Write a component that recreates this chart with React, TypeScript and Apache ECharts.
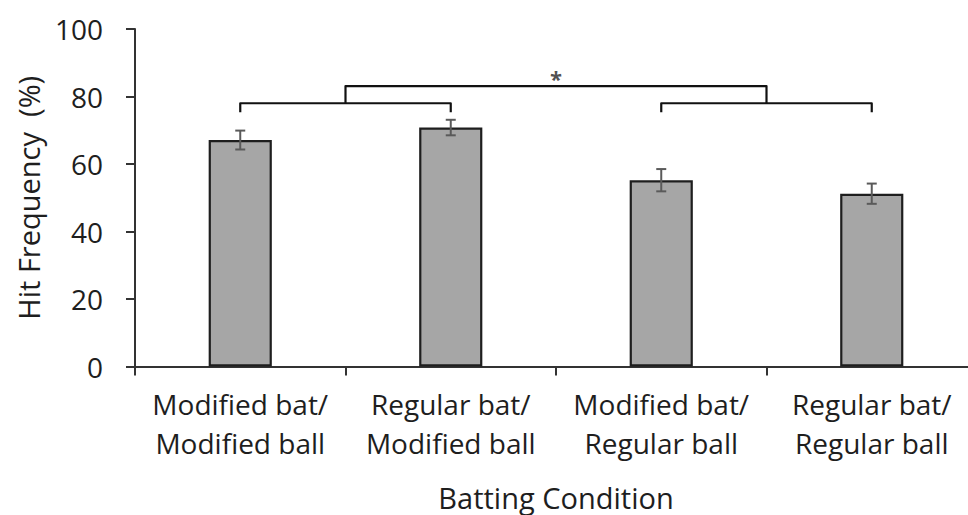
import React, { useEffect, useRef } from "react";
import * as echarts from "echarts";

const categories = [
  "Modified bat/\nModified ball",
  "Regular bat/\nModified ball",
  "Modified bat/\nRegular ball",
  "Regular bat/\nRegular ball",
];
const means = [67.1, 70.8, 55.2, 51.2];
const errors = [2.8, 2.3, 3.3, 3.0];
const yTicks = { min: 0, max: 100, interval: 20 };
// significance brackets: pairs of category indices
const bracketPairs = [
  [0, 1],
  [2, 3],
];
const bracketLevel = 78;
const bracketDropEnd = 75.3;
const topBracketLevel = 83.1;
const starLevel = 86.7;

const FONT = "'Open Sans', sans-serif";

export default function App() {
  const ref = useRef<HTMLDivElement>(null);
  useEffect(() => {
    if (!ref.current) return;
    const chart = echarts.init(ref.current, null, { renderer: "svg" });

    const bracketSeries: any[] = bracketPairs.map((p) => ({
      type: "line",
      xAxisIndex: 1,
      yAxisIndex: 0,
      symbol: "none",
      silent: true,
      lineStyle: { color: "#111", width: 2.2, join: "round" },
      data: [
        [p[0] + 0.5, bracketDropEnd],
        [p[0] + 0.5, bracketLevel],
        [p[1] + 0.5, bracketLevel],
        [p[1] + 0.5, bracketDropEnd],
      ],
    }));
    const mids = bracketPairs.map((p) => (p[0] + p[1] + 1) / 2);
    bracketSeries.push({
      type: "line",
      xAxisIndex: 1,
      yAxisIndex: 0,
      symbol: "none",
      silent: true,
      lineStyle: { color: "#111", width: 2.2, join: "round" },
      data: [
        [mids[0], bracketLevel],
        [mids[0], topBracketLevel],
        [mids[1], topBracketLevel],
        [mids[1], bracketLevel],
      ],
    });
    bracketSeries.push({
      type: "scatter",
      xAxisIndex: 1,
      yAxisIndex: 0,
      symbolSize: 0,
      silent: true,
      data: [[(mids[0] + mids[1]) / 2, starLevel]],
      label: {
        show: true,
        position: "inside",
        formatter: "*",
        fontFamily: FONT,
        fontSize: 22,
        fontWeight: "bold",
        color: "#222",
        offset: [0, 4],
      },
    });

    chart.setOption({
      animation: false,
      grid: {
        left: 135,
        top: 29,
        right: -9,
        bottom: 148.5,
        containLabel: false,
        outerBoundsMode: "none",
      },
      xAxis: [
        {
          type: "category",
          data: categories,
          name: "Batting Condition",
          nameLocation: "middle",
          nameGap: 116,
          nameTextStyle: { fontFamily: FONT, fontSize: 29, color: "#1e1e1e" },
          axisLine: { lineStyle: { color: "#333", width: 2 } },
          axisTick: { show: true, length: 9, lineStyle: { color: "#333", width: 2 } },
          axisLabel: {
            fontFamily: FONT,
            fontSize: 28,
            color: "#1e1e1e",
            lineHeight: 39,
            margin: 18,
            interval: 0,
          },
        },
        { type: "value", min: 0, max: 4, show: false },
      ],
      yAxis: {
        type: "value",
        min: yTicks.min,
        max: yTicks.max,
        interval: yTicks.interval,
        name: "Hit Frequency  (%)",
        nameLocation: "middle",
        nameGap: 92,
        nameTextStyle: { fontFamily: FONT, fontSize: 29, color: "#1e1e1e" },
        splitLine: { show: false },
        axisLine: { show: true, lineStyle: { color: "#333", width: 2 } },
        axisTick: { show: true, length: 9, inside: false, lineStyle: { color: "#333", width: 2 } },
        axisLabel: { fontFamily: FONT, fontSize: 28, color: "#1e1e1e", margin: 32 },
      },
      series: [
        {
          type: "bar",
          data: means,
          barWidth: "30%",
          itemStyle: { color: "#a6a6a6", borderColor: "#1e1e1e", borderWidth: 2.2 },
        },
        {
          type: "custom",
          data: means.map((m, i) => [i, m - errors[i], m + errors[i]]),
          z: 10,
          renderItem: (params: any, api: any) => {
            const i = api.value(0);
            const lo = api.coord([i, api.value(1)]);
            const hi = api.coord([i, api.value(2)]);
            const hw = 5;
            const style = { stroke: "#5a5a5a", lineWidth: 2, fill: "none" };
            return {
              type: "group",
              children: [
                { type: "line", shape: { x1: lo[0], y1: lo[1], x2: hi[0], y2: hi[1] }, style },
                { type: "line", shape: { x1: lo[0] - hw, y1: lo[1], x2: lo[0] + hw, y2: lo[1] }, style },
                { type: "line", shape: { x1: hi[0] - hw, y1: hi[1], x2: hi[0] + hw, y2: hi[1] }, style },
              ],
            };
          },
        },
        ...bracketSeries,
      ],
    });
    return () => chart.dispose();
  }, []);
  return <div ref={ref} style={{ width: 968, height: 515, position: "absolute", left: 0, top: 0 }} />;
}
